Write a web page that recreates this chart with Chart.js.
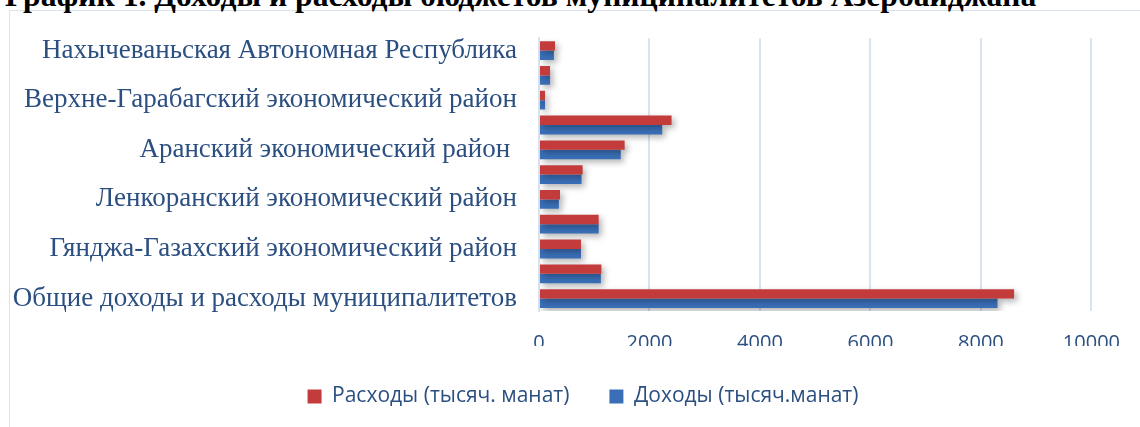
<!DOCTYPE html>
<html>
<head>
<meta charset="utf-8">
<script src="https://cdn.jsdelivr.net/npm/chart.js@4.4.1/dist/chart.umd.min.js"></script>
<style>
  html, body { margin: 0; padding: 0; background: #fff; width: 1140px; height: 427px; overflow: hidden; }
  #title {
    position: absolute; left: 5px; top: -20px; white-space: nowrap;
    font: bold 31.6px "Liberation Serif", "Times New Roman", serif; line-height: 32px; color: #000;
  }
  #frame {
    position: absolute; left: 9px; top: 10px; width: 1200px; height: 500px;
    border: 1.5px solid #d9e3f0;
  }
  #wrap { position: absolute; left: 0; top: 0; width: 1140px; height: 417px; }
</style>
</head>
<body>
<div id="frame"></div>
<div id="title">График 1. Доходы и расходы бюджетов муниципалитетов Азербайджана</div>
<div id="wrap"><canvas id="budgetChart"></canvas></div>
<script>
// categories from top to bottom (unlabeled rows are skipped by the axis in the source)
const categories = [
  "Нахычеваньская Автономная Республика",
  "",
  "Верхне-Гарабагский экономический район",
  "",
  "Аранский экономический район ",
  "",
  "Ленкоранский экономический район",
  "",
  "Гянджа-Газахский экономический район",
  "",
  "Общие доходы и расходы муниципалитетов"
];
const expenses = [290, 200, 110, 2400, 1550, 790, 380, 1080, 760, 1130, 8600];
const incomes = [270, 200, 110, 2230, 1480, 770, 360, 1080, 760, 1120, 8300];
const xTicks = [0, 2000, 4000, 6000, 8000, 10000];

const labelBlue = "#2b4f81";
const gridBlue = "#dae4f1";

// soft drop shadow under the bars
const barShadow = {
  id: "barShadow",
  beforeDatasetsDraw(chart) {
    const c = chart.ctx;
    c.save();
    c.shadowColor = "rgba(0,0,0,0.3)";
    c.shadowBlur = 6;
    c.shadowOffsetX = 3;
    c.shadowOffsetY = 3;
  },
  afterDatasetsDraw(chart) {
    chart.ctx.restore();
  }
};

// legend in the source sits a bit right of the canvas centre
const legendShift = {
  id: "legendShift",
  afterLayout(chart) {
    chart.legend.left += 36;
    chart.legend.right += 36;
  }
};

const ctx = document.getElementById("budgetChart").getContext("2d");
const budgetChart = new Chart(ctx, {
  type: "bar",
  data: {
    labels: categories,
    datasets: [
      {
        label: "Расходы (тысяч. манат)",
        data: expenses,
        backgroundColor: "#c43b3b",
        categoryPercentage: 0.76,
        barPercentage: 1
      },
      {
        label: "Доходы (тысяч.манат)",
        data: incomes,
        backgroundColor: "#3a6fb7",
        categoryPercentage: 0.76,
        barPercentage: 1
      }
    ]
  },
  options: {
    indexAxis: "y",
    responsive: true,
    maintainAspectRatio: false,
    animation: false,
    layout: { padding: { left: 0, top: 38, right: 46, bottom: 0 } },
    plugins: {
      legend: {
        position: "bottom",
        labels: {
          boxWidth: 14,
          boxHeight: 14,
          padding: 40,
          color: labelBlue,
          font: { family: "'Open Sans'", size: 21 }
        }
      },
      tooltip: { enabled: false }
    },
    scales: {
      x: {
        min: 0,
        max: 10000,
        afterBuildTicks(scale) {
          scale.ticks = xTicks.map(v => ({ value: v }));
        },
        afterFit(scale) { scale.height = 35; },
        grid: { color: gridBlue, lineWidth: 2, drawTicks: false },
        border: { display: false },
        ticks: {
          padding: 20,
          color: labelBlue,
          font: { family: "'Open Sans'", size: 20 },
          callback: v => String(v)
        }
      },
      y: {
        afterFit(scale) { scale.width = 539; },
        grid: { display: false, drawTicks: false },
        border: { color: gridBlue, width: 2 },
        ticks: {
          autoSkip: false,
          padding: 22,
          color: labelBlue,
          font: { family: "'Liberation Serif'", size: 27 }
        }
      }
    }
  },
  plugins: [barShadow, legendShift]
});
</script>
</body>
</html>
